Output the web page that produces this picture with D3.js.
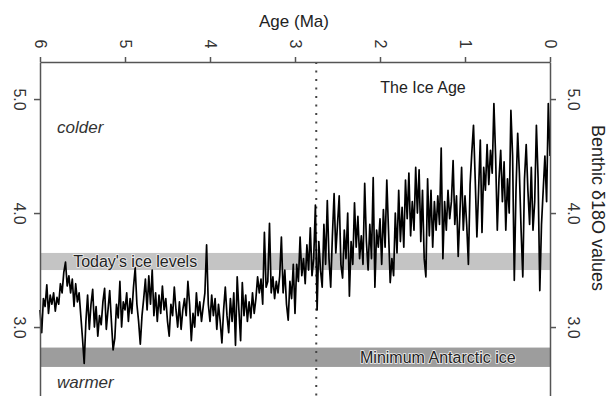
<!DOCTYPE html>
<html>
<head>
<meta charset="utf-8">
<script src="https://cdn.jsdelivr.net/npm/d3@7"></script>
<style>
  html, body { margin: 0; padding: 0; background: #fff; }
  svg { display: block; font-family: "Liberation Sans", Arial, sans-serif; }
</style>
</head>
<body>
<svg id="chart" width="610" height="396"></svg>
<script>
// Benthic δ18O stack, 6 Ma to present
const ageTicks = [6, 5, 4, 3, 2, 1, 0];
const d18OTicks = [3.0, 4.0, 5.0];
const startAge = 6;
const ageStep = 0.02;

// δ18O values (‰), one every 0.02 Ma from 6 Ma to 0 Ma
const d18O = [
  // 6 – 5 Ma
  3.15, 2.95, 3.25, 3.18, 3.37, 3.12, 3.28, 3.20, 3.30, 3.14,
  3.26, 3.20, 3.38, 3.30, 3.48, 3.57, 3.36, 3.45, 3.30, 3.42,
  3.18, 3.38, 3.22, 3.30, 3.10, 2.90, 2.68, 3.05, 3.28, 2.98,
  3.20, 3.33, 3.00, 3.18, 2.92, 3.10, 3.02, 3.22, 3.34, 2.98,
  3.15, 3.32, 3.05, 2.80, 2.90, 3.20, 3.08, 3.40, 3.00, 3.22,
  // 5 – 4 Ma
  3.15, 3.30, 3.05, 3.25, 3.12, 3.35, 3.52, 3.20, 3.05, 2.85,
  3.10, 3.25, 3.42, 3.15, 3.45, 3.20, 3.50, 3.10, 3.30, 3.05,
  3.28, 3.12, 3.36, 3.15, 3.25, 3.05, 2.92, 3.20, 3.10, 3.35,
  3.15, 3.00, 3.22, 2.98, 3.15, 3.25, 3.10, 3.40, 3.20, 2.88,
  3.12, 3.00, 3.30, 3.10, 3.22, 3.05, 3.18, 3.30, 3.72, 3.20,
  // 4 – 3 Ma
  3.05, 3.28, 3.10, 3.25, 2.98, 3.20, 3.05, 2.86, 3.15, 3.35,
  3.10, 2.95, 3.25, 3.05, 3.30, 2.84, 3.44, 3.15, 2.88, 3.39,
  3.10, 3.28, 3.05, 3.22, 3.08, 3.30, 3.12, 3.25, 3.44, 3.30,
  3.42, 3.20, 3.83, 3.35, 3.40, 3.91, 3.30, 3.44, 3.25, 3.40,
  3.30, 3.45, 3.79, 3.30, 3.50, 3.20, 3.06, 3.40, 3.25, 3.55,
  // 3 – 2 Ma
  3.12, 3.55, 3.40, 3.79, 3.45, 3.60, 3.38, 3.72, 3.50, 3.87,
  3.45, 3.60, 4.07, 3.15, 3.75, 3.50, 3.35, 3.90, 3.55, 4.11,
  3.60, 3.35, 3.80, 4.17, 3.65, 3.90, 4.15, 3.55, 3.43, 3.85,
  3.60, 4.00, 3.27, 3.75, 3.55, 4.09, 3.70, 3.97, 3.60, 3.80,
  3.55, 4.26, 3.75, 3.50, 3.90, 3.60, 4.31, 3.35, 3.85, 3.70,
  // 2 – 1 Ma
  3.95, 3.55, 4.03, 3.70, 4.29, 3.85, 3.39, 3.60, 3.45, 4.00,
  3.65, 4.20, 3.75, 4.05, 3.70, 4.29, 3.95, 4.35, 3.80, 4.10,
  3.85, 4.40, 4.00, 4.38, 3.75, 4.20, 3.60, 3.44, 4.30, 3.80,
  4.20, 3.70, 4.10, 3.85, 4.15, 3.90, 4.57, 3.60, 4.10, 3.85,
  4.20, 3.95, 4.10, 4.46, 3.90, 4.15, 3.62, 4.00, 4.40, 3.85,
  // 1 – 0 Ma
  4.15, 3.90, 3.55, 4.25, 4.53, 4.77, 4.30, 3.79, 4.20, 4.64,
  3.83, 4.40, 4.20, 4.60, 4.25, 4.55, 4.35, 4.96, 4.50, 3.85,
  4.30, 4.55, 4.10, 4.45, 3.85, 4.30, 4.00, 4.90, 4.50, 3.41,
  4.20, 4.70, 4.35, 3.85, 3.44, 4.30, 4.60, 4.20, 3.90, 4.40,
  3.85, 4.10, 4.77, 4.30, 3.32, 3.90, 4.20, 4.50, 4.10, 4.96,
  4.50
];

// Reference ice-volume bands (δ18O range) and onset of Northern Hemisphere glaciation
const bandNames = ["Today's ice levels", "Minimum Antarctic ice"];
const bandLow  = [3.50, 2.65];
const bandHigh = [3.65, 2.82];
const iceAgeOnset = 2.75;

const svg = d3.select("#chart");
const plotLeft = 40, plotRight = 550, plotTop = 62, plotBottom = 400;

const x = d3.scaleLinear().domain([6, 0]).range([plotLeft, plotRight]);
const y = d3.scaleLinear().domain([2.36, 5.325]).range([plotBottom, plotTop]);

const series = d3.zip(d3.range(d18O.length).map(i => startAge - i * ageStep), d18O);

// shaded bands
const bandFill = ["#c4c4c4", "#9d9d9d"];
const bandLabelAge = [5.61, 2.235];
const bandLayer = svg.append("g");
bandNames.forEach((name, i) => {
  bandLayer.append("rect")
    .attr("x", plotLeft).attr("width", plotRight - plotLeft)
    .attr("y", y(bandHigh[i])).attr("height", y(bandLow[i]) - y(bandHigh[i]))
    .attr("fill", bandFill[i]);
});

// dotted onset line
svg.append("line")
  .attr("x1", x(iceAgeOnset)).attr("x2", x(iceAgeOnset))
  .attr("y1", plotTop).attr("y2", plotBottom)
  .attr("stroke", "#444").attr("stroke-width", 2)
  .attr("stroke-dasharray", "2,6.5");

// δ18O record
svg.append("path")
  .datum(series)
  .attr("fill", "none")
  .attr("stroke", "#000")
  .attr("stroke-width", 1.7)
  .attr("stroke-linejoin", "round")
  .attr("d", d3.line().x(d => x(d[0])).y(d => y(d[1])));

// band labels
bandNames.forEach((name, i) => {
  svg.append("text")
    .attr("x", x(bandLabelAge[i]))
    .attr("y", y((bandLow[i] + bandHigh[i]) / 2))
    .attr("dominant-baseline", "central")
    .attr("font-size", 16)
    .attr("fill", "#222")
    .attr("stroke", "#eee").attr("stroke-width", 1.6)
    .attr("paint-order", "stroke")
    .text(name);
});

// axes
const axisColor = "#555";
function styleAxis(g) {
  g.select(".domain").attr("stroke", axisColor).attr("stroke-width", 1.5);
  g.selectAll(".tick line").attr("stroke", axisColor).attr("stroke-width", 1.5);
  g.selectAll(".tick text").attr("fill", "#333").attr("font-size", 16)
    .attr("font-family", "Liberation Sans, Arial, sans-serif");
}

const gTop = svg.append("g").attr("transform", `translate(0,${plotTop})`)
  .call(d3.axisTop(x).tickValues(ageTicks).tickFormat(d3.format("d")).tickSize(5).tickSizeOuter(0));
styleAxis(gTop);
gTop.selectAll(".tick text")
  .attr("x", null).attr("y", null).attr("dy", null)
  .attr("text-anchor", "middle").attr("dominant-baseline", "central")
  .attr("transform", "translate(0,-18) rotate(90)");

const fmt = d3.format(".1f");
const gLeft = svg.append("g").attr("transform", `translate(${plotLeft},0)`)
  .call(d3.axisLeft(y).tickValues(d18OTicks).tickFormat(fmt).tickSize(6).tickSizeOuter(0));
styleAxis(gLeft);
gLeft.selectAll(".tick text")
  .attr("x", null).attr("y", null).attr("dy", null)
  .attr("text-anchor", "middle").attr("dominant-baseline", "central")
  .attr("transform", "translate(-21,0) rotate(90)");

const gRight = svg.append("g").attr("transform", `translate(${plotRight},0)`)
  .call(d3.axisRight(y).tickValues(d18OTicks).tickFormat(fmt).tickSize(6).tickSizeOuter(0));
styleAxis(gRight);
gRight.selectAll(".tick text")
  .attr("x", null).attr("y", null).attr("dy", null)
  .attr("text-anchor", "middle").attr("dominant-baseline", "central")
  .attr("transform", "translate(23,0) rotate(90)");

// titles and annotations
svg.append("text")
  .attr("x", 294).attr("y", 27)
  .attr("text-anchor", "middle")
  .attr("font-size", 17).attr("fill", "#222")
  .text("Age (Ma)");

svg.append("text")
  .attr("text-anchor", "middle").attr("dominant-baseline", "central")
  .attr("transform", "translate(598,208) rotate(90)")
  .attr("font-size", 18).attr("fill", "#222")
  .text("Benthic δ18O values");

svg.append("text")
  .attr("x", 423).attr("y", 87)
  .attr("text-anchor", "middle").attr("dominant-baseline", "central")
  .attr("font-size", 16).attr("fill", "#222")
  .text("The Ice Age");

svg.append("text")
  .attr("x", 57).attr("y", 127)
  .attr("dominant-baseline", "central")
  .attr("font-size", 17).attr("font-style", "italic").attr("fill", "#333")
  .text("colder");

svg.append("text")
  .attr("x", 57).attr("y", 382)
  .attr("dominant-baseline", "central")
  .attr("font-size", 17).attr("font-style", "italic").attr("fill", "#333")
  .text("warmer");
</script>
</body>
</html>
